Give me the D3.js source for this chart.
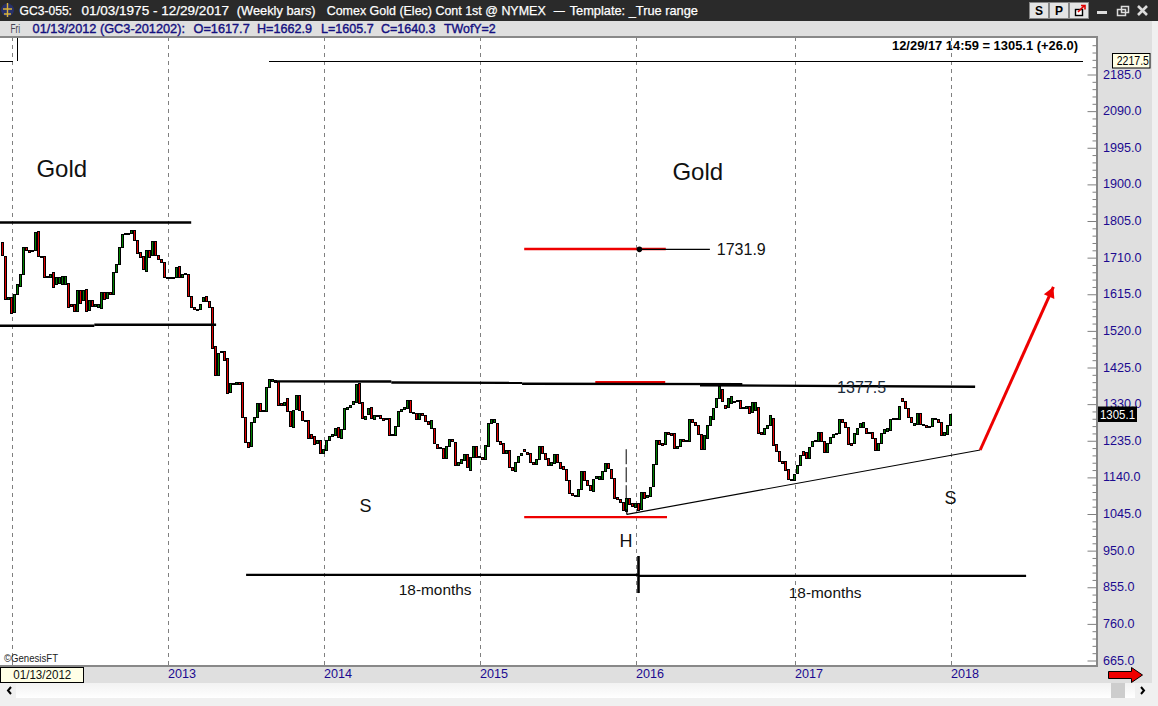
<!DOCTYPE html>
<html><head><meta charset="utf-8">
<script src="https://cdn.jsdelivr.net/npm/d3@7/dist/d3.min.js"></script>
<style>
html,body{margin:0;padding:0;background:#f0f0f0;overflow:hidden}
svg{display:block}
text{font-family:"Liberation Sans",Arial,sans-serif;white-space:pre}
</style></head><body><svg id="c" width="1158" height="706"></svg>
<script>
// weekly true-range bars, Dec 2011 .. Dec 2017
const opens=[1751,1715,1604,1609,1570,1616,1635,1667,1737,1731,1727,1729,1779,1715,1715,1662,1660,1672,1641,1643,1643,1643,1643,1591,1591,1572,1627,1600,1629,1572,1599,1584,1584,1581,1622,1604,1620,1616,1672,1693,1737,1770,1771,1773,1782,1755,1724,1713,1677,1731,1716,1752,1716,1706,1698,1659,1657,1658,1660,1687,1659,1667,1668,1610,1581,1577,1578,1597,1610,1597,1581,1480,1406,1469,1469,1449,1360,1384,1384,1388,1388,1296,1232,
1220,1283,1296,1332,1315,1313,1375,1391,1392,1390,1334,1328,1345,1311,1273,1316,1353,1311,1289,1288,1252,1248,1228,1237,1202,1211,1237,1248,1250,1270,1241,1265,1319,1323,1330,1336,1386,1335,1293,1303,1322,1293,1303,1302,1293,1290,1293,1252,1250,1274,1313,1317,1321,1341,1310,1308,1293,1308,1303,1287,1267,1267,1227,1218,1215,1192,1222,1239,1233,1171,1176,1185,1200,1159,1192,1221,1195,1194,1187,1222,
1280,1282,1282,1235,1228,1202,1211,1166,1158,1181,1196,1213,1207,1202,1181,1176,1188,1222,1204,1189,1172,1176,1200,1181,1169,1161,1133,1099,1094,1092,1111,1157,1133,1119,1107,1137,1137,1135,1155,1176,1163,1139,1088,1085,1077,1053,1086,1073,1064,1074,1059,1103,1088,1092,1116,1174,1237,1228,1226,1258,1256,1254,1215,1220,1239,1234,1234,1291,1284,1276,
1252,1214,1243,1276,1293,1321,1345,1369,1329,1323,1334,1338,1338,1340,1322,1319,1326,1310,1315,1322,1257,1254,1267,1276,1295,1226,1208,1183,1182,1161,1135,1135,1150,1172,1209,1205,1191,1220,1234,1235,1258,1234,1205,1228,1245,1251,1254,1291,1284,1271,1228,1228,1254,1269,1269,1269,1257,1257,1241,1211,1228,1254,1260,1263,1291,1291,1293,1347,1338,1321,1297,1278,1278,1306,1278,1276,1271,1271,1293,1291,1284,1250,1254,1277];
const closes=[1717,1603,1609,1568,1616,1641,1667,1738,1728,1726,1730,1776,1713,1712,1661,1659,1668,1633,1659,1659,1663,1663,1581,1585,1572,1627,1594,1627,1572,1599,1584,1589,1591,1622,1604,1620,1615,1672,1693,1737,1770,1773,1773,1782,1755,1721,1711,1680,1731,1714,1752,1716,1706,1698,1659,1656,1659,1661,1685,1659,1668,1669,1610,1581,1576,1578,1591,1607,1597,1581,1475,1406,1462,1467,1446,1358,1384,1386,1388,1384,1297,1232,1219,
1283,1296,1332,1311,1312,1375,1395,1396,1387,1328,1328,1335,1311,1271,1316,1353,1313,1287,1287,1241,1241,1228,1237,1202,1213,1237,1248,1252,1267,1243,1265,1319,1323,1328,1339,1382,1334,1293,1300,1319,1293,1303,1301,1293,1288,1293,1250,1249,1274,1313,1317,1322,1341,1310,1308,1293,1308,1303,1287,1278,1289,1228,1216,1215,1189,1222,1239,1233,1173,1179,1187,1200,1166,1192,1221,1192,1192,1188,1223,1282,
1291,1291,1235,1228,1202,1211,1166,1158,1181,1196,1202,1207,1202,1179,1176,1188,1222,1204,1189,1172,1181,1200,1179,1166,1161,1133,1099,1094,1092,1111,1157,1133,1119,1107,1137,1143,1144,1156,1176,1163,1139,1088,1083,1077,1055,1086,1071,1064,1074,1057,1103,1088,1094,1116,1174,1237,1226,1224,1258,1252,1252,1215,1221,1239,1235,1237,1291,1284,1276,1252,
1214,1250,1276,1300,1321,1345,1377,1338,1322,1347,1352,1336,1340,1319,1319,1325,1309,1336,1336,1254,1252,1269,1276,1303,1226,1208,1182,1179,1159,1135,1137,1150,1172,1198,1198,1189,1220,1234,1237,1258,1234,1205,1228,1244,1252,1254,1291,1284,1271,1228,1224,1254,1269,1280,1283,1256,1254,1241,1211,1228,1254,1265,1267,1291,1293,1293,1326,1338,1321,1297,1283,1282,1306,1278,1276,1271,1273,1293,1291,1284,1250,1257,1277,1305];
const yearWeeks=[3,55,107,159,211,264,316];
const yearLabels=["","2013","2014","2015","2016","2017","2018"];
const priceLabels=[2185,2090,1995,1900,1805,1710,1615,1520,1425,1330,1235,1140,1045,950,855,760,665];
const minorPrices=[2280,2261,2242,2223,2204,2166,2147,2128,2109,2071,2052,2033,2014,1976,1957,1938,1919,1881,1862,1843,1824,1786,1767,1748,1729,1691,1672,1653,1634,1596,1577,1558,1539,1501,1482,1463,1444,1406,1387,1368,1349,1311,1292,1273,1254,1216,1197,1178,1159,1121,1102,1083,1064,1026,1007,988,969,931,912,893,874,836,817,798,779,741,722,703,684];
// annotations: [week index, price] pairs
const blackThick=[[[-1,1801],[62.9,1801]],[[-1,1533.4],[30.6,1533.4]],[[30.6,1536],[71.2,1536]],[[90.9,1389],[129.6,1388.6]],[[129.6,1386],[173.2,1385]],[[173.2,1383],[246.6,1382]],[[232.5,1379],[324.2,1375]]];
const redLines=[[[173.9,1732.5],[221.1,1732.5]],[[197.6,1387],[220.9,1387]],[[173.9,1037],[221.5,1037]]];
const thinLines=[[[212,1731.2],[235.8,1731.2]],[[208.1,1044],[325.9,1211]],[[208.1,1044],[208.1,1058]]];
const measureLeft=[[81.2,887],[212,887]], measureRight=[[212,884.5],[341.2,884.5]], measureTick=[[212,936],[212,840]];
const pivotDash=[[207.9,1213],[207.9,1086]];
const targetArrow=[[325.9,1211],[350.3,1634]];
const pivotPoint=[[212.3,1731.4]];
const notes=[{t:"Gold",i:11.3,p:1942.5,s:24},{t:"Gold",i:223.3,p:1934.5,s:24},{t:"1731.9",i:238.1,p:1731.9,s:16},{t:"1377.5",i:278.2,p:1375,s:16,c:"#1a2a3a"},
 {t:"S",i:119,p:1068,s:18},{t:"S",i:314,p:1089,s:18},{t:"H",i:205.7,p:975,s:18},{t:"18-months",i:132.1,p:850,s:15.4},{t:"18-months",i:262.1,p:842,s:15.4}];

const W=1158,H=706,L=0,R=1097,T=37,B=665;
const svg=d3.select("#c");
const x=d3.scaleLinear().domain([0,1]).range([2.5,5.5]);
const y=d3.scaleLinear().domain([2185,665]).range([74.5,660.5]);
const ln=d3.line().x(d=>x(d[0])).y(d=>y(d[1]));

// panels
const P=(a,b,w,h,f)=>svg.append("rect").attr("x",a).attr("y",b).attr("width",w).attr("height",h).attr("fill",f);
P(0,0,W,H,"#f0f0f0");
P(0,21,1152,662,"#dfdfdf");
P(0,0,W,21,"#2a2a2a");
P(L,T,R-L,B-T,"#ffffff");
P(0,36,R+1,2,"#888888");
P(R-1,37,2,629,"#888888");
P(0,665,R+1,2,"#888888");
// scrollbar
const g0=svg.append("defs").append("linearGradient").attr("id","sb").attr("x1",0).attr("x2",0).attr("y1",0).attr("y2",1);
g0.append("stop").attr("offset",0).attr("stop-color","#f2f2f2");g0.append("stop").attr("offset",1).attr("stop-color","#ffffff");
P(0,683,1152,15,"url(#sb)");
P(0,683,16,15,"#f0f0f0");P(1135,683,17,15,"#f0f0f0");
P(1111,683,14,15,"#cdcdcd");
svg.append("path").attr("d","M11 687l-3 3.5 3 3.5").attr("fill","none").attr("stroke","#000").attr("stroke-width",2);
svg.append("path").attr("d","M1141 687l3 3.5 -3 3.5").attr("fill","none").attr("stroke","#000").attr("stroke-width",2);

// year grid + labels
const gridAxis=d3.axisBottom(x).tickValues(yearWeeks).tickSize(-(B-T-1)).tickFormat("");
const gg=svg.append("g").attr("transform",`translate(.5,${B})`).call(gridAxis);
gg.select(".domain").remove();
gg.selectAll("line").attr("stroke","#808080").attr("stroke-dasharray","4,4").attr("stroke-width",1);

// bars
const bars=d3.range(opens.length);
svg.append("g").attr("shape-rendering","crispEdges").selectAll("rect").data(bars).join("rect")
 .attr("x",i=>x(i)-1).attr("width",2)
 .attr("y",i=>Math.round(y(Math.max(opens[i],closes[i])))+.5)
 .attr("height",i=>Math.max(1,Math.round(Math.abs(y(opens[i])-y(closes[i])))))
 .attr("fill",i=>closes[i]>=opens[i]?"#008000":"#e00000")
 .attr("stroke","#000").attr("stroke-width",1);

// annotations
const draw=(d,c,w)=>svg.append("path").attr("d",ln(d)).attr("fill","none").attr("stroke",c).attr("stroke-width",w);
redLines.forEach(d=>draw(d,"#ee0000",2.4));
thinLines.forEach(d=>draw(d,"#000",1.2));
blackThick.forEach(d=>draw(d,"#000",2.4));
draw(measureLeft,"#000",2.4);draw(measureRight,"#000",2.4);draw(measureTick,"#000",2.6);
draw(pivotDash,"#000",1).attr("stroke-dasharray","15,3");
svg.selectAll("circle.pv").data(pivotPoint).join("circle").attr("class","pv").attr("cx",d=>x(d[0])).attr("cy",d=>y(d[1])).attr("r",2.8).attr("fill","#000");
// target arrow
const [a0,a1]=targetArrow.map(d=>[x(d[0]),y(d[1])]);
const ang=Math.atan2(a1[1]-a0[1],a1[0]-a0[0]);
draw(targetArrow,"#ee0000",3);
svg.append("path").attr("fill","#ee0000").attr("d",d3.line()([[a1[0],a1[1]],[a1[0]-12*Math.cos(ang-.5),a1[1]-12*Math.sin(ang-.5)],[a1[0]-12*Math.cos(ang+.5),a1[1]-12*Math.sin(ang+.5)]])+"Z");
svg.selectAll("text.note").data(notes).join("text").attr("class","note")
 .attr("x",d=>x(d.i)).attr("y",d=>y(d.p)).attr("dy",".36em").attr("font-size",d=>d.s).attr("fill",d=>d.c||"#111").text(d=>d.t);

// y axis
const maj=svg.append("g").attr("transform",`translate(${R-.5},0)`).call(d3.axisLeft(y).tickValues(priceLabels).tickSize(9).tickFormat(""));
const mnr=svg.append("g").attr("transform",`translate(${R-.5},0)`).call(d3.axisLeft(y).tickValues(minorPrices.filter(p=>y(p)>T+3)).tickSize(4).tickFormat(""));
[maj,mnr].forEach(g=>{g.select(".domain").remove();g.selectAll("line").attr("stroke","#808080");});
const lab=svg.append("g").attr("transform",`translate(${R},-0.5)`).call(d3.axisRight(y).tickValues(priceLabels).tickSize(0).tickPadding(6).tickFormat(d3.format(".1f")));
lab.select(".domain").remove();
lab.selectAll("text").attr("fill","#1c0a90").attr("font-size",12.6).attr("font-family",'"Liberation Sans",Arial,sans-serif');

// x axis labels
const xl=svg.append("g").attr("transform",`translate(0,${B+2})`).call(d3.axisBottom(x).tickValues(yearWeeks).tickSize(0).tickPadding(2).tickFormat((d,i)=>yearLabels[i]));
xl.select(".domain").remove();
xl.selectAll("text").attr("text-anchor","start").attr("fill","#1c0a90").attr("font-size",12.6).attr("font-family",'"Liberation Sans",Arial,sans-serif');

// furniture
const T_=(t,a,b,s,f,o={})=>{const e=svg.append("text").attr("x",a).attr("y",b).attr("font-size",s).attr("fill",f).text(t);Object.entries(o).forEach(([k,v])=>e.attr(k,v));return e;};
const fit=w=>({textLength:w,lengthAdjust:"spacingAndGlyphs"});
// overlay lines at top of plot
svg.append("line").attr("x1",269).attr("x2",1083).attr("y1",61.5).attr("y2",61.5).attr("stroke","#000");
svg.append("line").attr("x1",0).attr("x2",13).attr("y1",61.5).attr("y2",61.5).attr("stroke","#000");
svg.append("line").attr("x1",17.5).attr("x2",17.5).attr("y1",38).attr("y2",61).attr("stroke","#000");
T_("12/29/17 14:59 = 1305.1 (+26.0)",892,49.5,12.6,"#000",{"font-weight":"bold",...fit(186)});
T_("©GenesisFT",4,662,10.8,"#222",fit(54));
// tooltips
svg.append("rect").attr("x",1112.5).attr("y",53.5).attr("width",37.5).attr("height",14.5).attr("fill","#ffffe6").attr("stroke","#000");
T_("2217.5",1116.7,65,12.6,"#000",fit(32.3));
P(1098,406.5,39,15.5,"#000");
T_("1305.1",1100,419,12.6,"#fff",fit(35));
svg.append("rect").attr("x",.5).attr("y",667.5).attr("width",83).attr("height",15).attr("fill","#ffffe6").attr("stroke","#000");
T_("01/13/2012",13.3,679,12.6,"#111",fit(58));
svg.append("path").attr("d","M1108.5 671.5h23v-4l11 7.5-11 7.5v-4h-23z").attr("fill","#f00000").attr("stroke","#000");
// header text
[["GC3-055:",19.6,52.4],["01/03/1975 - 12/29/2017",81.4,147.6],["(Weekly bars)",236.8,78.8],["Comex Gold (Elec) Cont 1st @ NYMEX",326.7,219],["—",553.8,11],["Template: _True range",569.7,128.3]]
 .forEach(([t,a,w])=>T_(t,a,14.5,13.2,"#fff",{"stroke":"#fff","stroke-width":.25,...fit(w)}));
T_("Fri",10.4,32.5,12.4,"#445",fit(9.6));
[["01/13/2012 (GC3-201202):",32.6,152.4],["O=1617.7",193.5,56.2],["H=1662.9",257,55],["L=1605.7",321,52.7],["C=1640.3",381,54.5],["TWofY=2",444,51.7]]
 .forEach(([t,a,w])=>T_(t,a,32.5,13,"#14107f",{"stroke":"#14107f","stroke-width":.4,...fit(w)}));
// logo
svg.append("circle").attr("cx",7.5).attr("cy",10).attr("r",6.5).attr("fill","#27306a");
svg.append("path").attr("d","M7.5 3v14M3 9h9M4 14h7").attr("stroke","#d9b23a").attr("stroke-width",1.4).attr("fill","none");
// S P buttons
[[1030,"S"],[1050,"P"]].forEach(([a,t])=>{
 svg.append("rect").attr("x",a-.5).attr("y",2.5).attr("width",19).attr("height",16).attr("fill","#e4e4e4").attr("stroke","#888");
 T_(t,a+9,15,12,"#000",{"text-anchor":"middle","font-weight":"bold"});
});
svg.append("rect").attr("x",1069.5).attr("y",2.5).attr("width",19).attr("height",16).attr("fill","#e4e4e4").attr("stroke","#888");
svg.append("rect").attr("x",1075.5).attr("y",9.5).attr("width",7).attr("height",6).attr("fill","#fff").attr("stroke","#000").attr("stroke-width",1.4);
svg.append("path").attr("d","M1078 12l6-6M1081 5.5h4v4").attr("fill","none").attr("stroke","#e00000").attr("stroke-width",1.6);
// window controls
P(1097,11,10,3,"#dcdcdc");
svg.append("rect").attr("x",1117.5).attr("y",9.5).attr("width",8).attr("height",6).attr("fill","none").attr("stroke","#dcdcdc").attr("stroke-width",1.5);
svg.append("rect").attr("x",1121.5).attr("y",6.5).attr("width",7).attr("height",6).attr("fill","none").attr("stroke","#dcdcdc").attr("stroke-width",1.5);
svg.append("path").attr("d","M1138 6l9 9M1147 6l-9 9").attr("stroke","#dcdcdc").attr("stroke-width",2.6);
</script></body></html>
